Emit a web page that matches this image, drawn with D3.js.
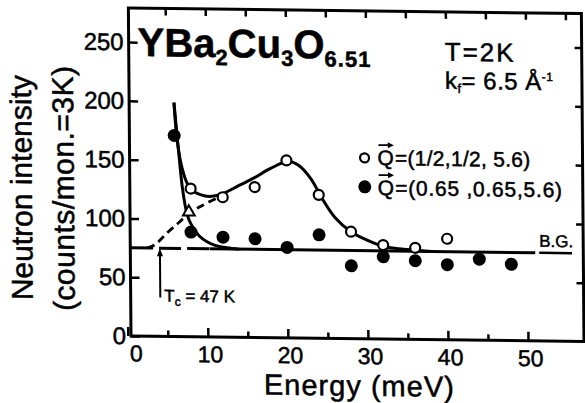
<!DOCTYPE html>
<html>
<head>
<meta charset="utf-8">
<script src="https://cdn.jsdelivr.net/npm/d3@7"></script>
<style>
body { margin: 0; background: #fff; }
text { font-family: "Liberation Sans", Arial, sans-serif; fill: #000; stroke: #000; stroke-width: 0.5px; }
</style>
</head>
<body>
<script>
var width = 585, height = 403;

// Axis ticks
var energyTicks = [0, 10, 20, 30, 40, 50];
var energyMinor = [5, 15, 25, 35, 45, 55];
var countTicks = [0, 50, 100, 150, 200, 250];

// Open circles, Q=(1/2,1/2,5.6)
var openE = [8, 12, 16, 20, 24, 28, 32, 36, 40];
var openI = [126, 119, 128, 151, 122, 91, 80, 78, 86];

// Filled circles, Q=(0.65,0.65,5.6)
var filledE = [6, 8, 12, 16, 20, 24, 28, 32, 36, 40, 44, 48];
var filledI = [171, 89, 85, 84, 77, 88, 62, 70, 67, 64, 69, 65];

// Open triangle on the dashed line
var triE = [7.75];
var triI = [106];

// Fit through the open circles
var fitOpenE = [6.0, 6.4, 7.0, 7.6, 8.3, 9.2, 10.3, 12, 14, 16, 18, 20.2, 21.5, 23, 24.5, 26, 28, 30, 32, 34, 36, 38];
var fitOpenI = [199, 165, 142, 130, 124, 121, 119.5, 122, 129, 136, 144, 150, 147, 136, 118, 103, 91, 84, 79, 77, 76, 75];

// Fit through the filled circles
var fitFilledE = [6.0, 6.5, 7.0, 7.5, 8, 9, 10, 11, 12.5, 14];
var fitFilledI = [199, 160, 125, 105, 96, 86, 81, 78, 76, 75];

// Dashed rise from background
var dashE = [2.5, 3.5, 5, 6.5, 7.75, 9.5, 11.5];
var dashI = [75, 78, 88, 97, 105, 112, 119];

// Background level
var bgLevel = 75;
var bgDashedE = [0.5, 10.3];
var bgSolidE = [10.3, 51];
var bgRightE = [51.5, 55.6];

// Tc arrow
var tcE = 4.1;
var tcI = [33, 75];

// Legend
var legendLabels = ["=(1/2,1/2, 5.6)", "=(0.65 ,0.65,5.6)"];

var svg = d3.select("body").append("svg")
    .attr("width", width)
    .attr("height", height);

// the scan is slightly sheared
var g = svg.append("g")
    .attr("transform", "translate(131,336) matrix(1,0.0122,0.008,1,0,0) translate(-131,-336)");

var x = d3.scaleLinear().domain([0.4, 57]).range([131, 584]);
var y = d3.scaleLinear().domain([0, 279]).range([336, 8]);

function styleAxis(sel, size) {
    sel.select(".domain").remove();
    sel.selectAll("line").attr("stroke", "#000").attr("stroke-width", 2.5);
    sel.selectAll("text")
        .style("font-family", "'Liberation Sans', Arial, sans-serif")
        .style("font-size", size + "px")
        .attr("fill", "#000");
}

// stretch a text to a given width with letter spacing
function fitWidth(t, w) {
    var n = t.text().length;
    var natural = t.node().getComputedTextLength();
    t.style("letter-spacing", ((w - natural) / n) + "px");
}

// bottom axis
var bottom = g.append("g")
    .attr("transform", "translate(0," + y(0) + ")")
    .call(d3.axisBottom(x).tickValues(energyTicks).tickSize(-9).tickPadding(9));
styleAxis(bottom, 23);
bottom.selectAll("text").attr("dx", function(d) { return d === 0 ? 8 : 2; });

g.append("g")
    .attr("transform", "translate(0," + y(0) + ")")
    .call(d3.axisBottom(x).tickValues(energyMinor.slice(0, 5)).tickSize(-6).tickFormat(""))
    .call(styleAxis, 23);

// top axis
g.append("g")
    .attr("transform", "translate(0," + y(279) + ")")
    .call(d3.axisTop(x).tickValues(energyTicks.concat(energyMinor).filter(function(d) { return d > 0; })).tickSize(-7).tickFormat(""))
    .call(styleAxis, 23);

// left axis
var left = g.append("g")
    .attr("transform", "translate(" + x(0.4) + ",0)")
    .call(d3.axisLeft(y).tickValues(countTicks).tickSize(-9).tickPadding(5));
styleAxis(left, 24);

// right axis
g.append("g")
    .attr("transform", "translate(" + x(57) + ",0)")
    .call(d3.axisRight(y).tickValues(countTicks.slice(1)).tickSize(-7).tickFormat(""))
    .call(styleAxis, 24);

// frame
g.append("rect")
    .attr("x", x(0.4)).attr("y", y(279))
    .attr("width", x(57) - x(0.4)).attr("height", y(0) - y(279))
    .attr("fill", "none").attr("stroke", "#000").attr("stroke-width", 3);

var line = d3.line()
    .x(function(d) { return x(d[0]); })
    .y(function(d) { return y(d[1]); })
    .curve(d3.curveCatmullRom.alpha(0.5));

function pairs(a, b) { return a.map(function(v, i) { return [v, b[i]]; }); }

// background
g.append("path")
    .attr("d", line(bgDashedE.map(function(e) { return [e, bgLevel]; })))
    .attr("fill", "none").attr("stroke", "#000").attr("stroke-width", 3)
    .attr("stroke-dasharray", "22,6");
g.append("path")
    .attr("d", line(bgSolidE.map(function(e) { return [e, bgLevel]; })))
    .attr("fill", "none").attr("stroke", "#000").attr("stroke-width", 3);
g.append("path")
    .attr("d", line(bgRightE.map(function(e) { return [e, bgLevel]; })))
    .attr("fill", "none").attr("stroke", "#000").attr("stroke-width", 2.5);

// fits
g.append("path")
    .attr("d", line(pairs(fitOpenE, fitOpenI)))
    .attr("fill", "none").attr("stroke", "#000").attr("stroke-width", 3);
g.append("path")
    .attr("d", line(pairs(fitFilledE, fitFilledI)))
    .attr("fill", "none").attr("stroke", "#000").attr("stroke-width", 3);
g.append("path")
    .attr("d", line(pairs(dashE, dashI)))
    .attr("fill", "none").attr("stroke", "#000").attr("stroke-width", 2.8)
    .attr("stroke-dasharray", "8,5");

// points
g.selectAll(".filled")
    .data(pairs(filledE, filledI))
    .enter().append("circle")
    .attr("class", "filled")
    .attr("cx", function(d) { return x(d[0]); })
    .attr("cy", function(d) { return y(d[1]); })
    .attr("r", 6.5)
    .attr("fill", "#000");

g.selectAll(".open")
    .data(pairs(openE, openI))
    .enter().append("circle")
    .attr("class", "open")
    .attr("cx", function(d) { return x(d[0]); })
    .attr("cy", function(d) { return y(d[1]); })
    .attr("r", 5)
    .attr("fill", "#fff")
    .attr("stroke", "#000")
    .attr("stroke-width", 2.2);

g.selectAll(".tri")
    .data(pairs(triE, triI))
    .enter().append("path")
    .attr("class", "tri")
    .attr("transform", function(d) { return "translate(" + x(d[0]) + "," + y(d[1]) + ")"; })
    .attr("d", d3.symbol().type(d3.symbolTriangle).size(60))
    .attr("fill", "#fff")
    .attr("stroke", "#000")
    .attr("stroke-width", 2);

// Tc arrow
g.append("line")
    .attr("x1", x(tcE)).attr("x2", x(tcE))
    .attr("y1", y(tcI[0])).attr("y2", y(tcI[1]) + 6)
    .attr("stroke", "#000").attr("stroke-width", 2);
g.append("path")
    .attr("d", "M" + x(tcE) + "," + y(tcI[1]) + "l-3,8l6,0z")
    .attr("fill", "#000");
var tc = g.append("text")
    .attr("x", x(tcE) + 4).attr("y", y(tcI[0]) + 4)
    .style("font-size", "17px");
tc.append("tspan").text("T");
tc.append("tspan").attr("dy", 4).style("font-size", "12px").text("c");
tc.append("tspan").attr("dy", -4).text(" = 47 K");

// B.G.
g.append("text")
    .attr("x", x(bgRightE[0]))
    .attr("y", y(bgLevel) - 6)
    .style("font-size", "17px")
    .text("B.G.");

// title
var title = g.append("text")
    .attr("x", 140).attr("y", 56)
    .style("font-size", "40px").style("font-weight", "bold");
title.append("tspan").text("YBa");
title.append("tspan").attr("dy", 8).style("font-size", "22px").text("2");
title.append("tspan").attr("dy", -8).text("Cu");
title.append("tspan").attr("dy", 8).style("font-size", "22px").text("3");
title.append("tspan").attr("dy", -8).text("O");
title.append("tspan").attr("dy", 8).style("font-size", "22px").style("letter-spacing", "1px").text("6.51");

// conditions
g.append("text")
    .attr("x", 447).attr("y", 57)
    .style("font-size", "26px").style("letter-spacing", "2px")
    .text("T=2K");
var kf = g.append("text")
    .attr("x", 447).attr("y", 85)
    .style("font-size", "24px").style("letter-spacing", "0.5px");
kf.append("tspan").text("k");
kf.append("tspan").attr("dy", 4).style("font-size", "13px").text("f");
kf.append("tspan").attr("dy", -4).text("= 6.5 Å");
kf.append("tspan").attr("dy", -9).style("font-size", "12px").text("-1");

// legend
var legendY = [162, 192];
var legendLen = [153, 185];
legendLabels.forEach(function(lab, i) {
    var ly = legendY[i];
    if (i === 0) {
        g.append("circle").attr("cx", 366).attr("cy", ly - 7).attr("r", 4.5)
            .attr("fill", "#fff").attr("stroke", "#000").attr("stroke-width", 2.2);
    } else {
        g.append("circle").attr("cx", 366).attr("cy", ly - 8).attr("r", 6.5).attr("fill", "#000");
    }
    var q = g.append("text").attr("x", 379).attr("y", ly)
        .style("font-size", "21px").text("Q");
    var qw = q.node().getComputedTextLength();
    var t = g.append("text").attr("x", 379 + qw + 1).attr("y", ly)
        .style("font-size", "21px").text(lab);
    fitWidth(t, legendLen[i] - qw - 1);
    g.append("line")
        .attr("x1", 380).attr("x2", 379 + qw - 2)
        .attr("y1", ly - 20).attr("y2", ly - 20)
        .attr("stroke", "#000").attr("stroke-width", 1.8);
    g.append("path")
        .attr("d", "M" + (379 + qw) + "," + (ly - 20) + "l-6,-3l0,6z")
        .attr("fill", "#000");
});

// axis titles
g.append("text")
    .attr("transform", "translate(33,189) rotate(-90)")
    .attr("text-anchor", "middle")
    .style("font-size", "30px")
    .text("Neutron intensity");
g.append("text")
    .attr("transform", "translate(75,189) rotate(-90)")
    .attr("text-anchor", "middle")
    .style("font-size", "30px").style("letter-spacing", "0.5px")
    .text("(counts/mon.=3K)");
g.append("text")
    .attr("x", 359).attr("y", 393)
    .attr("text-anchor", "middle")
    .style("font-size", "29px").style("letter-spacing", "1px")
    .text("Energy (meV)");
</script>
</body>
</html>
